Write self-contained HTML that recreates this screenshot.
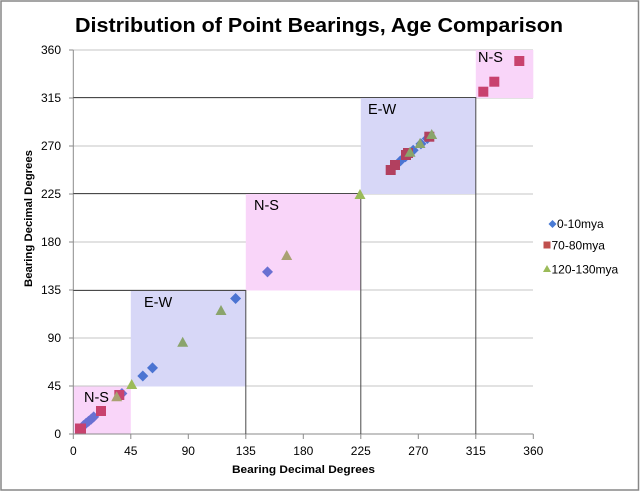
<!DOCTYPE html>
<html><head><meta charset="utf-8"><style>
html,body{margin:0;padding:0;background:#fff;}
svg{display:block;}
text{font-family:"Liberation Sans",sans-serif;}
</style></head><body>
<svg width="640" height="492" viewBox="0 0 640 492" xmlns="http://www.w3.org/2000/svg">
<rect x="0" y="0" width="640" height="492" fill="#fff"/>
<rect x="1" y="1" width="637.5" height="489" fill="#fff" stroke="#878787" stroke-width="1.5"/>
<text x="319" y="32" font-size="20" font-weight="bold" text-anchor="middle" textLength="488" lengthAdjust="spacingAndGlyphs" fill="#000">Distribution of Point Bearings, Age Comparison</text>

<!-- gridlines -->
<g stroke="#c4c4c4" stroke-width="1">
<line x1="73" y1="50" x2="533" y2="50"/>
<line x1="73" y1="98" x2="533" y2="98"/>
<line x1="73" y1="146" x2="533" y2="146"/>
<line x1="73" y1="194" x2="533" y2="194"/>
<line x1="73" y1="242" x2="533" y2="242"/>
<line x1="73" y1="290" x2="533" y2="290"/>
<line x1="73" y1="338" x2="533" y2="338"/>
<line x1="73" y1="386" x2="533" y2="386"/>
</g>

<!-- boxes -->
<rect x="73.3" y="386.5" width="57.5" height="47.5" fill="#f9d5f9"/>
<rect x="130.8" y="290.5" width="115" height="96" fill="#d7d7f7"/>
<rect x="245.8" y="194" width="115" height="96.5" fill="#f9d5f9"/>
<rect x="360.8" y="98" width="115" height="96" fill="#d7d7f7"/>
<rect x="475.8" y="50" width="57.5" height="48" fill="#f9d5f9"/>

<!-- axes -->
<g stroke="#8a8a8a" stroke-width="1">
<line x1="73.3" y1="50" x2="73.3" y2="434"/>
<line x1="73.3" y1="434" x2="533.3" y2="434"/>
<line x1="69" y1="50" x2="73.3" y2="50"/>
<line x1="69" y1="98" x2="73.3" y2="98"/>
<line x1="69" y1="146" x2="73.3" y2="146"/>
<line x1="69" y1="194" x2="73.3" y2="194"/>
<line x1="69" y1="242" x2="73.3" y2="242"/>
<line x1="69" y1="290" x2="73.3" y2="290"/>
<line x1="69" y1="338" x2="73.3" y2="338"/>
<line x1="69" y1="386" x2="73.3" y2="386"/>
<line x1="69" y1="434" x2="73.3" y2="434"/>
<line x1="73.3" y1="434" x2="73.3" y2="439"/>
<line x1="130.8" y1="434" x2="130.8" y2="439"/>
<line x1="188.3" y1="434" x2="188.3" y2="439"/>
<line x1="245.8" y1="434" x2="245.8" y2="439"/>
<line x1="303.3" y1="434" x2="303.3" y2="439"/>
<line x1="360.8" y1="434" x2="360.8" y2="439"/>
<line x1="418.3" y1="434" x2="418.3" y2="439"/>
<line x1="475.8" y1="434" x2="475.8" y2="439"/>
<line x1="533.3" y1="434" x2="533.3" y2="439"/>
</g>

<!-- dark bounding lines -->
<g stroke="#4a4a4a" stroke-width="1" fill="none">
<polyline points="73.3,97.5 475.8,97.5 475.8,434"/>
<polyline points="73.3,193.5 360.8,193.5 360.8,434"/>
<polyline points="73.3,290.5 245.8,290.5 245.8,434"/>
</g>

<!-- box labels -->
<g font-size="14.5" fill="#000">
<text x="84" y="402">N-S</text>
<text x="144" y="307">E-W</text>
<text x="254" y="210">N-S</text>
<text x="368" y="114">E-W</text>
<text x="478" y="62">N-S</text>
</g>

<!-- diamonds -->
<g>
<path d="M83.5,420 L89,425.5 L83.5,431 L78,425.5Z" fill="#6a70d2"/>
<path d="M86.1,417.8 L91.6,423.3 L86.1,428.8 L80.6,423.3Z" fill="#6a70d2"/>
<path d="M88.6,415.7 L94.1,421.2 L88.6,426.7 L83.1,421.2Z" fill="#6a70d2"/>
<path d="M91.2,413.6 L96.7,419.1 L91.2,424.6 L85.7,419.1Z" fill="#6a70d2"/>
<path d="M93.7,411.4 L99.2,416.9 L93.7,422.4 L88.2,416.9Z" fill="#6a70d2"/>
<path d="M121.9,388 L127.4,393.5 L121.9,399 L116.4,393.5Z" fill="#6a70d2"/>
<path d="M142.8,370.5 L148.3,376 L142.8,381.5 L137.3,376Z" fill="#4b74d2"/>
<path d="M152.5,362.4 L158,367.9 L152.5,373.4 L147,367.9Z" fill="#4b74d2"/>
<path d="M235.6,293 L241.1,298.5 L235.6,304 L230.1,298.5Z" fill="#4b74d2"/>
<path d="M267.5,266.4 L273,271.9 L267.5,277.4 L262,271.9Z" fill="#6a70d2"/>
<path d="M400.4,155.4 L405.9,160.9 L400.4,166.4 L394.9,160.9Z" fill="#4b74d2"/>
<path d="M405.5,151.2 L411,156.7 L405.5,162.2 L400,156.7Z" fill="#4b74d2"/>
<path d="M413.2,144.8 L418.7,150.3 L413.2,155.8 L407.7,150.3Z" fill="#4b74d2"/>
<path d="M420.9,138.4 L426.4,143.9 L420.9,149.4 L415.4,143.9Z" fill="#4b74d2"/>
<path d="M427.3,133 L432.8,138.5 L427.3,144 L421.8,138.5Z" fill="#4b74d2"/>
</g>

<!-- squares -->
<g>
<rect x="75" y="423.5" width="11" height="10" fill="#c8426e"/>
<rect x="96" y="406" width="10" height="10" fill="#c8426e"/>
<rect x="114.3" y="390" width="10" height="10" fill="#c8426e"/>
<rect x="385.7" y="165" width="10" height="10" fill="#b2405f"/>
<rect x="390" y="160" width="10" height="10" fill="#b2405f"/>
<rect x="401" y="150" width="10" height="10" fill="#b2405f"/>
<rect x="403" y="148" width="10" height="10" fill="#b2405f"/>
<rect x="424.3" y="131.7" width="10" height="10" fill="#b2405f"/>
<rect x="478.3" y="86.7" width="10" height="10" fill="#c8426e"/>
<rect x="489.3" y="76.7" width="10" height="10" fill="#c8426e"/>
<rect x="514.3" y="56" width="10" height="10" fill="#c8426e"/>
</g>

<!-- triangles -->
<g>
<path d="M116.7,391.3 L122.2,401.3 L111.2,401.3Z" fill="#a9a172"/>
<path d="M131.7,379 L137.2,389 L126.2,389Z" fill="#9bbb59"/>
<path d="M182.7,336.7 L188.2,346.7 L177.2,346.7Z" fill="#8aa46c"/>
<path d="M221,305 L226.5,315 L215.5,315Z" fill="#8aa46c"/>
<path d="M286.7,250 L292.2,260 L281.2,260Z" fill="#a9a172"/>
<path d="M360,189 L365.5,199 L354.5,199Z" fill="#9bbb59"/>
<path d="M410,146.7 L415.5,156.7 L404.5,156.7Z" fill="#8aa46c"/>
<path d="M420,138 L425.5,148 L414.5,148Z" fill="#8aa46c"/>
<path d="M431.7,129 L437.2,139 L426.2,139Z" fill="#8aa46c"/>
</g>

<!-- y tick labels -->
<g font-size="12" fill="#000" text-anchor="end">
<text x="61" y="54">360</text>
<text x="61" y="102">315</text>
<text x="61" y="150">270</text>
<text x="61" y="198">225</text>
<text x="61" y="246">180</text>
<text x="61" y="294">135</text>
<text x="61" y="342">90</text>
<text x="61" y="390">45</text>
<text x="61" y="438">0</text>
</g>
<!-- x tick labels -->
<g font-size="12" fill="#000" text-anchor="middle">
<text x="73.3" y="455">0</text>
<text x="130.8" y="455">45</text>
<text x="188.3" y="455">90</text>
<text x="245.8" y="455">135</text>
<text x="303.3" y="455">180</text>
<text x="360.8" y="455">225</text>
<text x="418.3" y="455">270</text>
<text x="475.8" y="455">315</text>
<text x="533.3" y="455">360</text>
</g>

<text x="303.5" y="473" font-size="11" font-weight="bold" text-anchor="middle" textLength="143" lengthAdjust="spacingAndGlyphs">Bearing Decimal Degrees</text>
<text transform="translate(32,218.5) rotate(-90)" x="0" y="0" font-size="11" font-weight="bold" text-anchor="middle" textLength="137" lengthAdjust="spacingAndGlyphs">Bearing Decimal Degrees</text>

<!-- legend -->
<path d="M552.5,220 L556.5,224 L552.5,228 L548.5,224Z" fill="#4a7bd4"/>
<text x="557" y="228" font-size="12">0-10mya</text>
<rect x="543.5" y="241.5" width="7" height="7" fill="#c0504d"/>
<text x="551.5" y="249.5" font-size="12">70-80mya</text>
<path d="M547,265 L551,272 L543,272Z" fill="#9bbb59"/>
<text x="551.5" y="273.5" font-size="12">120-130mya</text>
</svg>
</body></html>
